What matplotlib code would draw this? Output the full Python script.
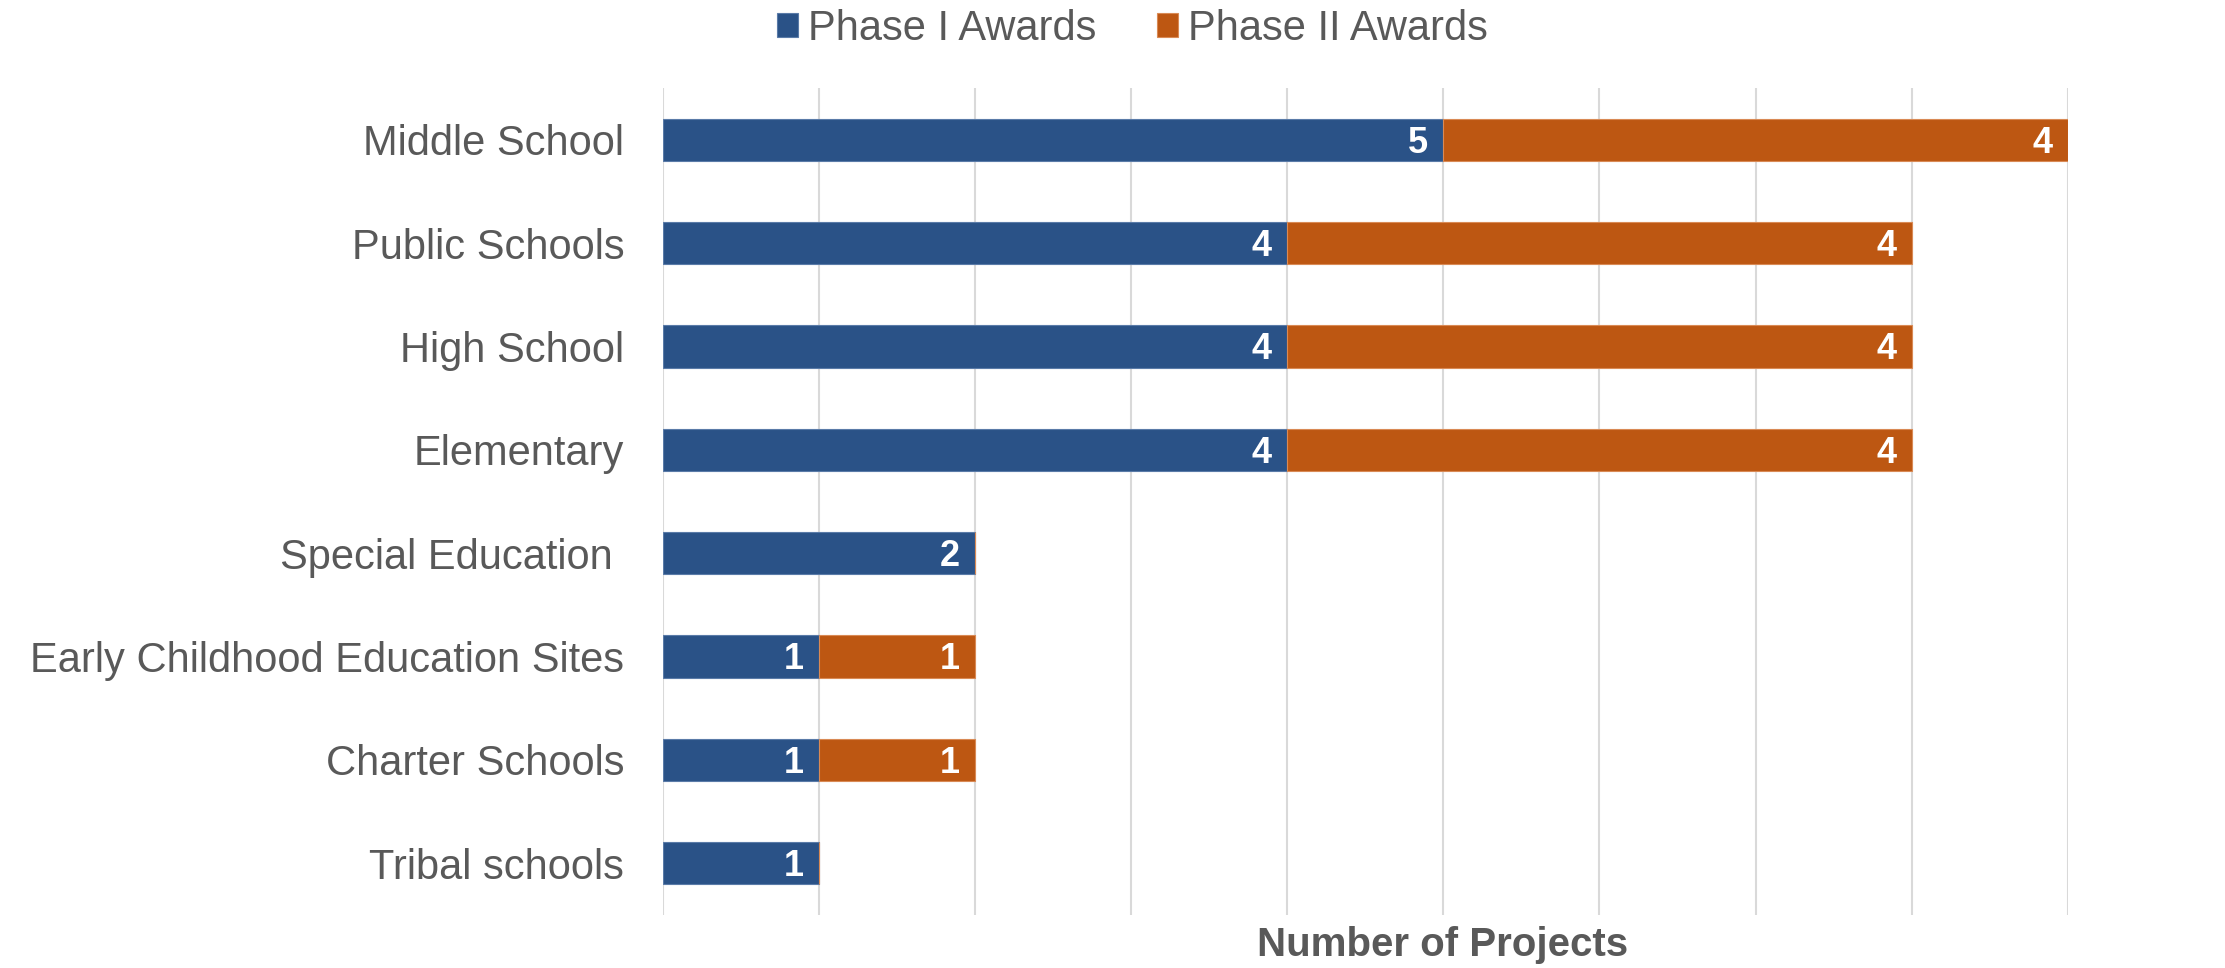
import matplotlib
matplotlib.use("Agg")
import matplotlib.pyplot as plt
import numpy as np

categories = ["Middle School", "Public Schools", "High School", "Elementary",
              "Special Education ", "Early Childhood Education Sites",
              "Charter Schools", "Tribal schools"]
phase1 = [5, 4, 4, 4, 2, 1, 1, 1]
phase2 = [4, 4, 4, 4, 0, 1, 1, 0]
series_names = ["Phase I Awards", "Phase II Awards"]

blue = "#2A5287"
orange = "#BD5712"
text_gray = "#595959"

plt.rcParams['font.family'] = ['Liberation Sans', 'DejaVu Sans']

fig = plt.figure(figsize=(22.25, 9.68), dpi=100)
ax = fig.add_axes([0.298, 0.0548, 0.6313, 0.8542])

y = np.arange(len(categories))
h = 0.41
b1 = ax.barh(y, phase1, height=h, color=blue, edgecolor="#5A7BA8", linewidth=0.8,
             label=series_names[0], zorder=3)
b2 = ax.barh(y, phase2, left=phase1, height=h, color=orange, edgecolor="#D98A55",
             linewidth=0.8, label=series_names[1], zorder=3)

# value labels sit inside the right end of each segment, digits centred on the bar
for bars, vals in ((b1, phase1), (b2, phase2)):
    for rect, v in zip(bars, vals):
        if v == 0:
            continue
        ax.annotate(str(v), xy=(rect.get_x() + rect.get_width(), rect.get_y() + rect.get_height() / 2),
                    xytext=(-11, -9.3), textcoords="offset points", ha="right", va="baseline",
                    color="white", fontsize=26, fontweight="bold", zorder=4)

ax.set_xlim(0, 9)
ax.set_ylim(len(categories) - 0.5, -0.5)
ax.set_xticks(range(0, 10))
ax.set_xticklabels([])
ax.set_yticks(y)
ax.set_yticklabels(categories, fontsize=30, color=text_gray)
ax.tick_params(axis="both", length=0)
ax.tick_params(axis="y", pad=28)
ax.grid(axis="x", color="#D9D9D9", linewidth=1.5, zorder=0)
for s in ax.spines.values():
    s.set_visible(False)

ax.set_xlabel("Number of Projects", fontsize=29, fontweight="bold", color=text_gray, va="center")
ax.xaxis.set_label_coords(0.555, -0.036)

fig.legend(handles=[b1, b2], labels=series_names, loc="center", bbox_to_anchor=(0.509, 0.970),
           ncol=2, frameon=False, fontsize=30, labelcolor=text_gray,
           handlelength=0.5, handleheight=0.5, handletextpad=0.25, columnspacing=1.45)

fig.savefig("out.png", dpi=100, facecolor="white")
